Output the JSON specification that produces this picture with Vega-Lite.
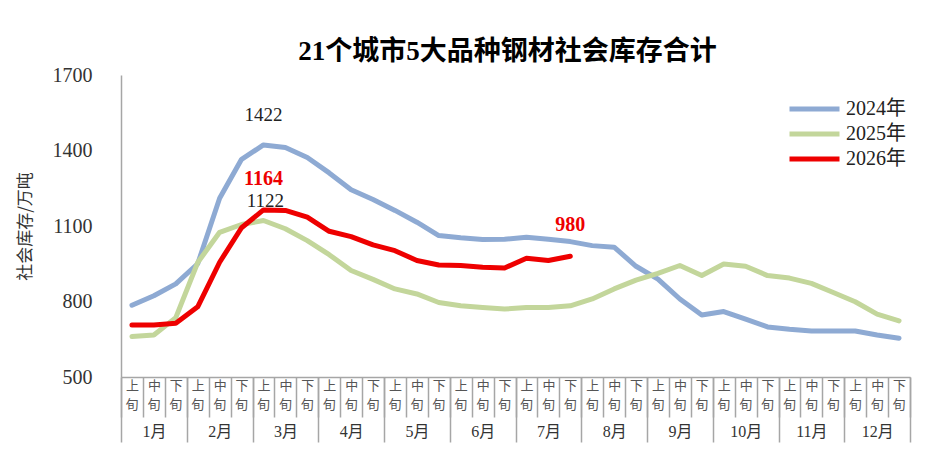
{
  "$schema": "https://vega.github.io/schema/vega-lite/v6.json",
  "width": 789,
  "height": 302,
  "autosize": "none",
  "padding": {"left": 121, "top": 75, "right": 21, "bottom": 80},
  "background": "white",
  "config": {"view": {"stroke": null}},
  "title": {
    "text": "21个城市5大品种钢材社会库存合计",
    "font": "Liberation Serif, Noto Sans CJK SC",
    "fontSize": 27,
    "fontWeight": "bold",
    "color": "#000000",
    "anchor": "middle",
    "frame": "group",
    "baseline": "bottom",
    "offset": 12,
    "dx": -8,
    "dy": 40
  },
  "data": {
    "values": [
      {"period": "1月上旬", "month": "1月", "year": "2024年", "value": 785},
      {"period": "1月中旬", "month": "1月", "year": "2024年", "value": 823},
      {"period": "1月下旬", "month": "1月", "year": "2024年", "value": 870},
      {"period": "2月上旬", "month": "2月", "year": "2024年", "value": 950},
      {"period": "2月中旬", "month": "2月", "year": "2024年", "value": 1210},
      {"period": "2月下旬", "month": "2月", "year": "2024年", "value": 1365},
      {"period": "3月上旬", "month": "3月", "year": "2024年", "value": 1422},
      {"period": "3月中旬", "month": "3月", "year": "2024年", "value": 1412},
      {"period": "3月下旬", "month": "3月", "year": "2024年", "value": 1372},
      {"period": "4月上旬", "month": "4月", "year": "2024年", "value": 1311},
      {"period": "4月中旬", "month": "4月", "year": "2024年", "value": 1244},
      {"period": "4月下旬", "month": "4月", "year": "2024年", "value": 1205},
      {"period": "5月上旬", "month": "5月", "year": "2024年", "value": 1162},
      {"period": "5月中旬", "month": "5月", "year": "2024年", "value": 1115},
      {"period": "5月下旬", "month": "5月", "year": "2024年", "value": 1062},
      {"period": "6月上旬", "month": "6月", "year": "2024年", "value": 1053},
      {"period": "6月中旬", "month": "6月", "year": "2024年", "value": 1046},
      {"period": "6月下旬", "month": "6月", "year": "2024年", "value": 1047},
      {"period": "7月上旬", "month": "7月", "year": "2024年", "value": 1055},
      {"period": "7月中旬", "month": "7月", "year": "2024年", "value": 1047},
      {"period": "7月下旬", "month": "7月", "year": "2024年", "value": 1038},
      {"period": "8月上旬", "month": "8月", "year": "2024年", "value": 1022},
      {"period": "8月中旬", "month": "8月", "year": "2024年", "value": 1016},
      {"period": "8月下旬", "month": "8月", "year": "2024年", "value": 940},
      {"period": "9月上旬", "month": "9月", "year": "2024年", "value": 889},
      {"period": "9月中旬", "month": "9月", "year": "2024年", "value": 810},
      {"period": "9月下旬", "month": "9月", "year": "2024年", "value": 746},
      {"period": "10月上旬", "month": "10月", "year": "2024年", "value": 760},
      {"period": "10月中旬", "month": "10月", "year": "2024年", "value": 730},
      {"period": "10月下旬", "month": "10月", "year": "2024年", "value": 699},
      {"period": "11月上旬", "month": "11月", "year": "2024年", "value": 690},
      {"period": "11月中旬", "month": "11月", "year": "2024年", "value": 683},
      {"period": "11月下旬", "month": "11月", "year": "2024年", "value": 683},
      {"period": "12月上旬", "month": "12月", "year": "2024年", "value": 683},
      {"period": "12月中旬", "month": "12月", "year": "2024年", "value": 667},
      {"period": "12月下旬", "month": "12月", "year": "2024年", "value": 654},
      {"period": "1月上旬", "month": "1月", "year": "2025年", "value": 661},
      {"period": "1月中旬", "month": "1月", "year": "2025年", "value": 667},
      {"period": "1月下旬", "month": "1月", "year": "2025年", "value": 736},
      {"period": "2月上旬", "month": "2月", "year": "2025年", "value": 955},
      {"period": "2月中旬", "month": "2月", "year": "2025年", "value": 1075},
      {"period": "2月下旬", "month": "2月", "year": "2025年", "value": 1106},
      {"period": "3月上旬", "month": "3月", "year": "2025年", "value": 1122},
      {"period": "3月中旬", "month": "3月", "year": "2025年", "value": 1089},
      {"period": "3月下旬", "month": "3月", "year": "2025年", "value": 1042},
      {"period": "4月上旬", "month": "4月", "year": "2025年", "value": 986},
      {"period": "4月中旬", "month": "4月", "year": "2025年", "value": 923},
      {"period": "4月下旬", "month": "4月", "year": "2025年", "value": 888},
      {"period": "5月上旬", "month": "5月", "year": "2025年", "value": 850},
      {"period": "5月中旬", "month": "5月", "year": "2025年", "value": 830},
      {"period": "5月下旬", "month": "5月", "year": "2025年", "value": 796},
      {"period": "6月上旬", "month": "6月", "year": "2025年", "value": 783},
      {"period": "6月中旬", "month": "6月", "year": "2025年", "value": 776},
      {"period": "6月下旬", "month": "6月", "year": "2025年", "value": 770},
      {"period": "7月上旬", "month": "7月", "year": "2025年", "value": 776},
      {"period": "7月中旬", "month": "7月", "year": "2025年", "value": 776},
      {"period": "7月下旬", "month": "7月", "year": "2025年", "value": 783},
      {"period": "8月上旬", "month": "8月", "year": "2025年", "value": 810},
      {"period": "8月中旬", "month": "8月", "year": "2025年", "value": 850},
      {"period": "8月下旬", "month": "8月", "year": "2025年", "value": 885},
      {"period": "9月上旬", "month": "9月", "year": "2025年", "value": 912},
      {"period": "9月中旬", "month": "9月", "year": "2025年", "value": 943},
      {"period": "9月下旬", "month": "9月", "year": "2025年", "value": 903},
      {"period": "10月上旬", "month": "10月", "year": "2025年", "value": 949},
      {"period": "10月中旬", "month": "10月", "year": "2025年", "value": 940},
      {"period": "10月下旬", "month": "10月", "year": "2025年", "value": 903},
      {"period": "11月上旬", "month": "11月", "year": "2025年", "value": 893},
      {"period": "11月中旬", "month": "11月", "year": "2025年", "value": 872},
      {"period": "11月下旬", "month": "11月", "year": "2025年", "value": 836},
      {"period": "12月上旬", "month": "12月", "year": "2025年", "value": 799},
      {"period": "12月中旬", "month": "12月", "year": "2025年", "value": 750},
      {"period": "12月下旬", "month": "12月", "year": "2025年", "value": 723},
      {"period": "1月上旬", "month": "1月", "year": "2026年", "value": 707},
      {"period": "1月中旬", "month": "1月", "year": "2026年", "value": 707},
      {"period": "1月下旬", "month": "1月", "year": "2026年", "value": 714},
      {"period": "2月上旬", "month": "2月", "year": "2026年", "value": 779},
      {"period": "2月中旬", "month": "2月", "year": "2026年", "value": 956},
      {"period": "2月下旬", "month": "2月", "year": "2026年", "value": 1093},
      {"period": "3月上旬", "month": "3月", "year": "2026年", "value": 1164},
      {"period": "3月中旬", "month": "3月", "year": "2026年", "value": 1162},
      {"period": "3月下旬", "month": "3月", "year": "2026年", "value": 1135},
      {"period": "4月上旬", "month": "4月", "year": "2026年", "value": 1079},
      {"period": "4月中旬", "month": "4月", "year": "2026年", "value": 1058},
      {"period": "4月下旬", "month": "4月", "year": "2026年", "value": 1025},
      {"period": "5月上旬", "month": "5月", "year": "2026年", "value": 1002},
      {"period": "5月中旬", "month": "5月", "year": "2026年", "value": 963},
      {"period": "5月下旬", "month": "5月", "year": "2026年", "value": 945},
      {"period": "6月上旬", "month": "6月", "year": "2026年", "value": 943},
      {"period": "6月中旬", "month": "6月", "year": "2026年", "value": 936},
      {"period": "6月下旬", "month": "6月", "year": "2026年", "value": 933},
      {"period": "7月上旬", "month": "7月", "year": "2026年", "value": 972},
      {"period": "7月中旬", "month": "7月", "year": "2026年", "value": 963},
      {"period": "7月下旬", "month": "7月", "year": "2026年", "value": 980}
    ]
  },
  "layer": [
    {
      "layer": [
        {
          "mark": {"type": "line", "strokeWidth": 5, "strokeJoin": "round", "strokeCap": "round"},
          "encoding": {
            "x": {
              "field": "period",
              "type": "ordinal",
              "bandPosition": 0.5,
              "scale": {
                "type": "band",
                "paddingInner": 0,
                "paddingOuter": 0,
                "domain": ["1月上旬", "1月中旬", "1月下旬", "2月上旬", "2月中旬", "2月下旬", "3月上旬", "3月中旬", "3月下旬", "4月上旬", "4月中旬", "4月下旬", "5月上旬", "5月中旬", "5月下旬", "6月上旬", "6月中旬", "6月下旬", "7月上旬", "7月中旬", "7月下旬", "8月上旬", "8月中旬", "8月下旬", "9月上旬", "9月中旬", "9月下旬", "10月上旬", "10月中旬", "10月下旬", "11月上旬", "11月中旬", "11月下旬", "12月上旬", "12月中旬", "12月下旬"]
              },
              "axis": {
                "orient": "bottom",
                "title": null,
                "labelExpr": "substring(datum.label, length(datum.label) - 2, length(datum.label) - 1)",
                "labelAngle": 0,
                "labelFont": "Noto Sans CJK SC",
                "labelFontSize": 13,
                "labelColor": "#555555",
                "labelPadding": -38,
                "labelOverlap": false,
                "labelFlush": false,
                "tickBand": "extent",
                "tickSize": 40,
                "tickColor": "#a6a6a6",
                "tickWidth": 1.5,
                "domainColor": "#a6a6a6",
                "domainWidth": 1.5,
                "grid": false
              }
            },
            "y": {
              "field": "value",
              "type": "quantitative",
              "scale": {"domain": [500, 1700], "nice": false, "zero": false},
              "axis": {
                "title": "社会库存/万吨",
                "values": [500, 800, 1100, 1400, 1700],
                "format": "d",
                "ticks": false,
                "grid": false,
                "labelFont": "Liberation Serif",
                "labelFontSize": 20,
                "labelColor": "#333333",
                "labelPadding": 29,
                "labelFlush": false,
                "domainColor": "#a6a6a6",
                "domainWidth": 1.5,
                "titleFont": "Noto Sans CJK SC",
                "titleFontSize": 17,
                "titleFontWeight": "normal",
                "titleColor": "#333333",
                "titleX": -96,
                "titleY": 151,
                "titleAngle": -90,
                "titleAlign": "center",
                "titleBaseline": "middle"
              }
            },
            "color": {
              "field": "year",
              "type": "nominal",
              "scale": {"domain": ["2024年", "2025年", "2026年"], "range": ["#8eaad3", "#c3d69b", "#ee0000"]},
              "legend": {
                "title": null,
                "orient": "none",
                "legendX": 666,
                "legendY": 19,
                "symbolType": "M-1,0H3",
                "symbolSize": 625,
                "symbolStrokeWidth": 5,
                "labelFont": "Liberation Serif, Noto Sans CJK SC",
                "labelFontSize": 20,
                "labelColor": "#222222",
                "labelOffset": 29,
                "rowPadding": 0
              }
            }
          }
        },
        {
          "transform": [{"filter": "datum.year == '2024年' && datum.period == '3月上旬'"}],
          "mark": {"type": "text", "dy": -30, "font": "Liberation Serif", "fontSize": 19, "color": "#222222"},
          "encoding": {
            "x": {"field": "period", "type": "ordinal", "bandPosition": 0.5},
            "y": {"field": "value", "type": "quantitative"},
            "text": {"field": "value", "type": "quantitative", "format": "d"}
          }
        },
        {
          "transform": [{"filter": "datum.year == '2025年' && datum.period == '3月上旬'"}],
          "mark": {"type": "text", "dy": -19, "dx": 2, "font": "Liberation Serif", "fontSize": 19, "color": "#222222"},
          "encoding": {
            "x": {"field": "period", "type": "ordinal", "bandPosition": 0.5},
            "y": {"field": "value", "type": "quantitative"},
            "text": {"field": "value", "type": "quantitative", "format": "d"}
          }
        },
        {
          "transform": [{"filter": "datum.year == '2026年' && (datum.period == '3月上旬' || datum.period == '7月下旬')"}],
          "mark": {"type": "text", "dy": -31, "font": "Liberation Serif", "fontSize": 20, "fontWeight": "bold", "color": "#ee0000"},
          "encoding": {
            "x": {"field": "period", "type": "ordinal", "bandPosition": 0.5},
            "y": {"field": "value", "type": "quantitative"},
            "text": {"field": "value", "type": "quantitative", "format": "d"}
          }
        }
      ]
    },
    {
      "mark": {"type": "rule", "opacity": 0},
      "encoding": {
        "x": {
          "field": "period",
          "type": "ordinal",
          "scale": {
            "type": "band",
            "paddingInner": 0,
            "paddingOuter": 0,
            "domain": ["1月上旬", "1月中旬", "1月下旬", "2月上旬", "2月中旬", "2月下旬", "3月上旬", "3月中旬", "3月下旬", "4月上旬", "4月中旬", "4月下旬", "5月上旬", "5月中旬", "5月下旬", "6月上旬", "6月中旬", "6月下旬", "7月上旬", "7月中旬", "7月下旬", "8月上旬", "8月中旬", "8月下旬", "9月上旬", "9月中旬", "9月下旬", "10月上旬", "10月中旬", "10月下旬", "11月上旬", "11月中旬", "11月下旬", "12月上旬", "12月中旬", "12月下旬"]
          },
          "axis": {
            "orient": "bottom",
            "title": null,
            "labelExpr": "'旬'",
            "labelAngle": 0,
            "labelFont": "Noto Sans CJK SC",
            "labelFontSize": 13,
            "labelColor": "#555555",
            "labelPadding": 21,
            "labelOverlap": false,
            "labelFlush": false,
            "ticks": false,
            "tickSize": 0,
            "domain": false,
            "grid": false
          }
        }
      }
    },
    {
      "mark": {"type": "rule", "opacity": 0},
      "encoding": {
        "x": {
          "field": "month",
          "type": "ordinal",
          "scale": {
            "type": "band",
            "paddingInner": 0,
            "paddingOuter": 0,
            "domain": ["1月", "2月", "3月", "4月", "5月", "6月", "7月", "8月", "9月", "10月", "11月", "12月"]
          },
          "axis": {
            "orient": "bottom",
            "title": null,
            "labelAngle": 0,
            "labelFont": "Liberation Serif, Noto Sans CJK SC",
            "labelFontSize": 16,
            "labelColor": "#333333",
            "labelPadding": -19,
            "labelFlush": false,
            "tickBand": "extent",
            "tickSize": 65,
            "tickColor": "#a6a6a6",
            "tickWidth": 1.5,
            "domain": false,
            "grid": false
          }
        }
      }
    }
  ],
  "resolve": {"scale": {"x": "independent"}}
}
